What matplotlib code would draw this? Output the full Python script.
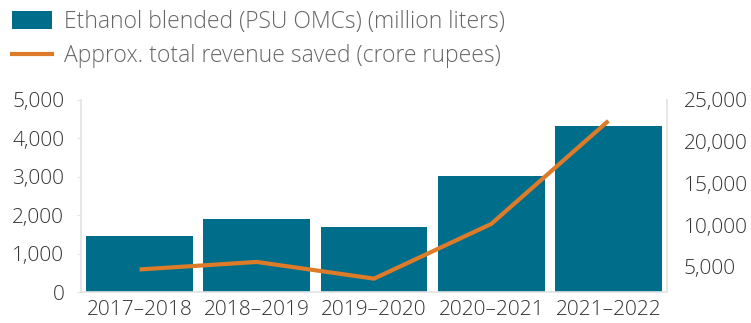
import matplotlib
matplotlib.use("Agg")
import matplotlib.pyplot as plt
from matplotlib.patches import Patch
from matplotlib.lines import Line2D
from matplotlib.ticker import FuncFormatter

plt.rcParams['font.family'] = ['Open Sans', 'DejaVu Sans']
plt.rcParams['font.weight'] = 'light'

years = ["2017–2018", "2018–2019", "2019–2020", "2020–2021", "2021–2022"]
ethanol_blended = [1470, 1900, 1700, 3020, 4330]          # million liters
revenue_saved = [4700, 5600, 3600, 10150, 22500]          # crore rupees

bar_color = "#006E8A"
line_color = "#DE7B28"
axis_color = "#E3E3E3"
tick_color = "#333333"
legend_text_color = "#666666"
tick_fs = 15
legend_fs = 16.5

fig = plt.figure(figsize=(7.51, 3.23), dpi=100)
ax = fig.add_axes([81 / 751, 1 - 292 / 323, (667 - 81) / 751, (292 - 100) / 323])
ax2 = ax.twinx()

x = list(range(len(years)))
ax.bar(x, ethanol_blended, width=0.91, color=bar_color, zorder=2)
ax2.plot(x, revenue_saved, color=line_color, lw=3, solid_capstyle='butt', zorder=3)

ax.set_xlim(-0.5, 4.5)
ax.set_ylim(0, 5000)
ax.set_yticks([0, 1000, 2000, 3000, 4000, 5000])
ax2.set_ylim(2000, 25000)
ax2.set_yticks([5000, 10000, 15000, 20000, 25000])

fmt = FuncFormatter(lambda v, p: f"{int(v):,}")
ax.yaxis.set_major_formatter(fmt)
ax2.yaxis.set_major_formatter(fmt)

ax.set_xticks(x)
ax.set_xticklabels(years)

for a in (ax, ax2):
    for s in a.spines.values():
        s.set_visible(False)
ax.spines['left'].set_visible(True)
ax.spines['left'].set_color(axis_color)
ax.spines['bottom'].set_visible(True)
ax.spines['bottom'].set_color(axis_color)
ax2.spines['right'].set_visible(True)
ax2.spines['right'].set_color(axis_color)
for s in ('left', 'bottom'):
    ax.spines[s].set_linewidth(1.2)
ax2.spines['right'].set_linewidth(1.2)

ax.tick_params(axis='y', length=3, color=axis_color, labelsize=tick_fs, labelcolor=tick_color, pad=9)
ax.tick_params(axis='x', length=0, labelsize=tick_fs, labelcolor=tick_color, pad=6)
ax2.tick_params(axis='y', length=0, labelsize=tick_fs, labelcolor=tick_color, pad=12)

handles = [
    Patch(facecolor=bar_color, edgecolor='none'),
    Line2D([0], [0], color=line_color, lw=3),
]
labels = ["Ethanol blended (PSU OMCs) (million liters)",
          "Approx. total revenue saved (crore rupees)"]
leg = fig.legend(handles, labels, loc='upper left', bbox_to_anchor=(3 / 751, 1 - 1 / 323),
                 frameon=False, fontsize=legend_fs, handlelength=1.75, handleheight=0.8,
                 handletextpad=0.5, labelspacing=0.45, borderaxespad=0)
for t in leg.get_texts():
    t.set_color(legend_text_color)

fig.savefig("out.png", dpi=100)
